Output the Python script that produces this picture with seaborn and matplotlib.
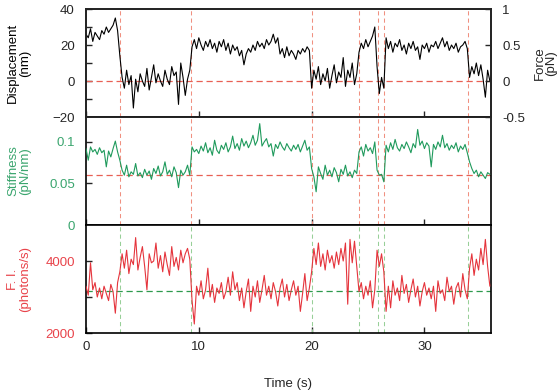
import numpy as np
import matplotlib
matplotlib.use("Agg")
import matplotlib.pyplot as plt
import seaborn as sns
from matplotlib.ticker import FixedLocator

sns.set_style("white")
plt.rcParams['font.family'] = ['Liberation Sans', 'DejaVu Sans']

# sampling interval of the traces (s)
dt = 0.2

# Displacement trace (nm), one value every 0.2 s
displacement = [
    26, 24, 29, 22, 27, 25, 23, 28, 26, 30, 27, 29, 31, 35, 28,
    14, 2, -4, 6, -2, 3, -15, 1, -6, 4, 0, -3, 7, -5, 2, 9, -1, 4, 0, -3, 6, 1, -2, 8, 3, 5, -13, 10, 2, -8, 1, 6,
    19, 23, 18, 24, 20, 17, 22, 19, 23, 18, 21, 16, 22, 19, 23, 17, 21, 15, 20, 17, 19, 14, 17, 9, 15, 18, 16,
    20, 17, 22, 19, 21, 18, 23, 20, 22, 26, 21, 24, 15, 18, 13, 19, 14, 17, 15, 12, 17, 15, 18, 16, 19, 17,
    -4, 6, 1, 8, -2, 4, 0, 7, -4, 3, 9, -1, 5, 2, 13, -3, 6, 2, 10, -2, 4,
    16, 21, 18, 23, 19, 22, 25, 30,
    8, -7, 2, -4,
    24, 18, 22, 16, 21, 19, 23, 17, 20, 15, 21, 18, 22, 17, 19, 12, 20, 18, 21, 16, 20, 19, 22, 18, 21, 24, 19,
    22, 17, 20, 18, 21, 16, 19, 20, 22, 18,
    2, 8, 4, 10, 3, 9, 1, -9, 6, 0,
]

# Stiffness trace (pN/nm)
stiffness = [
    0.092, 0.078, 0.094, 0.088, 0.091, 0.085, 0.093, 0.087, 0.090, 0.070, 0.089, 0.082, 0.092, 0.101, 0.088,
    0.078, 0.066, 0.060, 0.072, 0.058, 0.064, 0.061, 0.074, 0.059, 0.063, 0.057, 0.067, 0.060, 0.065, 0.055,
    0.068, 0.062, 0.071, 0.059, 0.064, 0.076, 0.061, 0.066, 0.058, 0.070, 0.063, 0.045, 0.066, 0.060, 0.064,
    0.072, 0.060,
    0.094, 0.088, 0.091, 0.086, 0.095, 0.089, 0.099, 0.087, 0.093, 0.084, 0.102, 0.090, 0.086, 0.096, 0.091,
    0.099, 0.088, 0.094, 0.107, 0.092, 0.098, 0.090, 0.104, 0.095, 0.101, 0.093, 0.099, 0.108, 0.096, 0.102,
    0.122, 0.095, 0.100, 0.104, 0.094, 0.098, 0.083, 0.097, 0.092, 0.100, 0.094, 0.090, 0.098, 0.093, 0.089,
    0.096, 0.091, 0.097, 0.088, 0.095, 0.102, 0.090, 0.094,
    0.068, 0.058, 0.040, 0.070, 0.062, 0.055, 0.072, 0.060, 0.066, 0.058, 0.069, 0.063, 0.052, 0.067, 0.061,
    0.072, 0.059, 0.064, 0.057, 0.066, 0.062,
    0.088, 0.094, 0.083, 0.097, 0.089, 0.093, 0.086, 0.100,
    0.066, 0.060, 0.061, 0.052,
    0.096, 0.088, 0.099, 0.091, 0.103, 0.093, 0.089, 0.097, 0.092, 0.100, 0.094, 0.087, 0.098, 0.093, 0.115,
    0.096, 0.101, 0.092, 0.099, 0.095, 0.070, 0.097, 0.091, 0.100, 0.094, 0.108, 0.093, 0.098, 0.090, 0.096,
    0.092, 0.099, 0.088, 0.095, 0.091, 0.097, 0.087,
    0.076, 0.068, 0.062, 0.066, 0.058, 0.064, 0.060, 0.056, 0.063, 0.061,
]

# Fluorescence intensity trace (photons/s)
intensity = [
    3300, 3050, 3950, 3200, 3400, 3000, 3250, 2950, 3300, 3100, 2900, 3350, 3150, 2550, 3400,
    3700, 4200, 3800, 4300, 3650, 4050, 3900, 4650, 3750, 4100, 4400, 3850, 3200, 4200, 3950, 4000,
    4500, 3800, 4150, 3700, 4250, 3900, 3600, 4400, 3850, 4100, 3750, 4300, 3950, 4200, 4350, 4050,
    2900, 2250, 3300, 3050, 3450, 2950, 3200, 3800, 3000, 3350, 2850, 3250, 3100, 3400, 2950, 3150, 3550,
    3050, 3700, 3200, 3400, 2900, 3250, 2700, 3150, 3500, 2600, 3300, 3000, 3450, 2850, 3200, 3600, 3050,
    3300, 2950, 3400, 3150, 2750, 3250, 3500, 3000, 3350, 2900, 3200, 3450, 3050, 3300, 2600, 3100, 3650,
    2900, 3250,
    3700, 4350, 3900, 4500, 3850, 4200, 3750, 4300, 3950, 4150, 3800, 4250, 3900, 4350, 4000, 4500, 2800,
    4600, 3950, 4550, 3850,
    3150, 3400, 2950, 3300, 3050, 3450, 2700, 3200,
    4300, 3850, 4200, 3700,
    2600, 3300, 2700, 3450, 3050, 3250, 2900, 3600, 3100, 3350, 2850, 3200, 3500, 3000, 3300, 2750, 3150,
    3400, 3050, 3250, 2950, 3300, 2600, 3450, 3100, 3200, 2900, 3550, 3150, 3300, 2800, 3250, 3400, 3000,
    3650, 3200, 2950,
    3800, 4200, 3600, 4050, 3750, 4350, 3900, 4600, 3850, 3300,
]

# event boundaries (s) and reference levels
event_times = [3.0, 9.35, 20.05, 24.2, 25.85, 26.45, 33.85]
disp_ref = 0
stiff_ref = 0.06
fi_ref = 3180

time = np.arange(len(displacement)) * dt

GREEN = '#1f9a5c'
GREEN_TXT = '#3aa56e'
RED = '#e5343c'
RED_TXT = '#e8434a'
VRED = '#f09080'
VGREEN = '#98cf98'

fig = plt.figure(figsize=(5.6, 3.92), dpi=100)
left, width, h = 86 / 560, 405 / 560, 108 / 392
ax1 = fig.add_axes([left, 1 - 117 / 392, width, h])
ax2 = fig.add_axes([left, 1 - 225 / 392, width, h], sharex=ax1)
ax3 = fig.add_axes([left, 1 - 333 / 392, width, h], sharex=ax1)

for ax in (ax1, ax2, ax3):
    for t in event_times:
        ax.axvline(t, color=VGREEN if ax is ax3 else VRED, lw=0.75,
                   dashes=(4, 3), zorder=1)

ax1.axhline(disp_ref, color='#e86055', lw=0.9, dashes=(5, 3), zorder=1)
ax2.axhline(stiff_ref, color='#e86055', lw=0.9, dashes=(5, 3), zorder=1)
ax3.axhline(fi_ref, color='#2e9a4e', lw=0.9, dashes=(5, 3), zorder=1)

sns.lineplot(x=time, y=displacement, ax=ax1, color='black', lw=0.8, zorder=3)
sns.lineplot(x=time, y=stiffness, ax=ax2, color=GREEN, lw=0.8, zorder=3)
sns.lineplot(x=time, y=intensity, ax=ax3, color=RED, lw=0.8, zorder=3)

ax1.set_xlim(0, 35.9)
ax1.set_ylim(-20, 40)
ax2.set_ylim(0, 0.13)
ax3.set_ylim(2000, 5000)

ax1.yaxis.set_major_locator(FixedLocator([-20, 0, 20, 40]))
ax1.yaxis.set_minor_locator(FixedLocator([-10, 10, 30]))
ax2.yaxis.set_major_locator(FixedLocator([0, 0.05, 0.1]))
ax2.set_yticklabels(['0', '0.05', '0.1'])
ax3.yaxis.set_major_locator(FixedLocator([2000, 4000]))
ax3.yaxis.set_minor_locator(FixedLocator([3000]))
ax3.xaxis.set_major_locator(FixedLocator([0, 10, 20, 30]))

for ax in (ax1, ax2, ax3):
    ax.tick_params(which='both', direction='in', length=4, width=1,
                   labelsize=9.5, pad=8, left=True, bottom=True,
                   top=False, right=False)
    for s in ax.spines.values():
        s.set_linewidth(1.2)
        s.set_color('black')
    ax.set_xlabel('')
for ax in (ax1, ax2):
    ax.tick_params(axis='x', labelbottom=False)

ax2.tick_params(axis='y', labelcolor=GREEN_TXT)
ax3.tick_params(axis='y', labelcolor=RED_TXT)
ax3.tick_params(axis='x', pad=6)

axr = ax1.twinx()
axr.set_ylim(-0.5, 1)
axr.yaxis.set_major_locator(FixedLocator([-0.5, 0, 0.5, 1]))
axr.set_yticklabels(['-0.5', '0', '0.5', '1'])
axr.tick_params(direction='in', length=4, width=1, labelsize=9.5, pad=8,
                right=True, left=False)
for s in axr.spines.values():
    s.set_linewidth(1.2)

lab = dict(fontsize=9.5, linespacing=1.0)
ax1.set_ylabel('Displacement\n(nm)', color='black', **lab)
ax2.set_ylabel('Stiffness\n(pN/nm)', color=GREEN_TXT, **lab)
ax3.set_ylabel('F. I.\n(photons/s)', color=RED_TXT, **lab)
for ax in (ax1, ax2, ax3):
    ax.yaxis.set_label_coords(-0.135, 0.5)
axr.set_ylabel('Force\n(pN)', fontsize=9.5, linespacing=1.0, rotation=90)
axr.yaxis.set_label_coords(1.105, 0.5)

ax3.set_xlabel('Time (s)', fontsize=9.5, labelpad=18)

fig.savefig('out.png', dpi=100)
